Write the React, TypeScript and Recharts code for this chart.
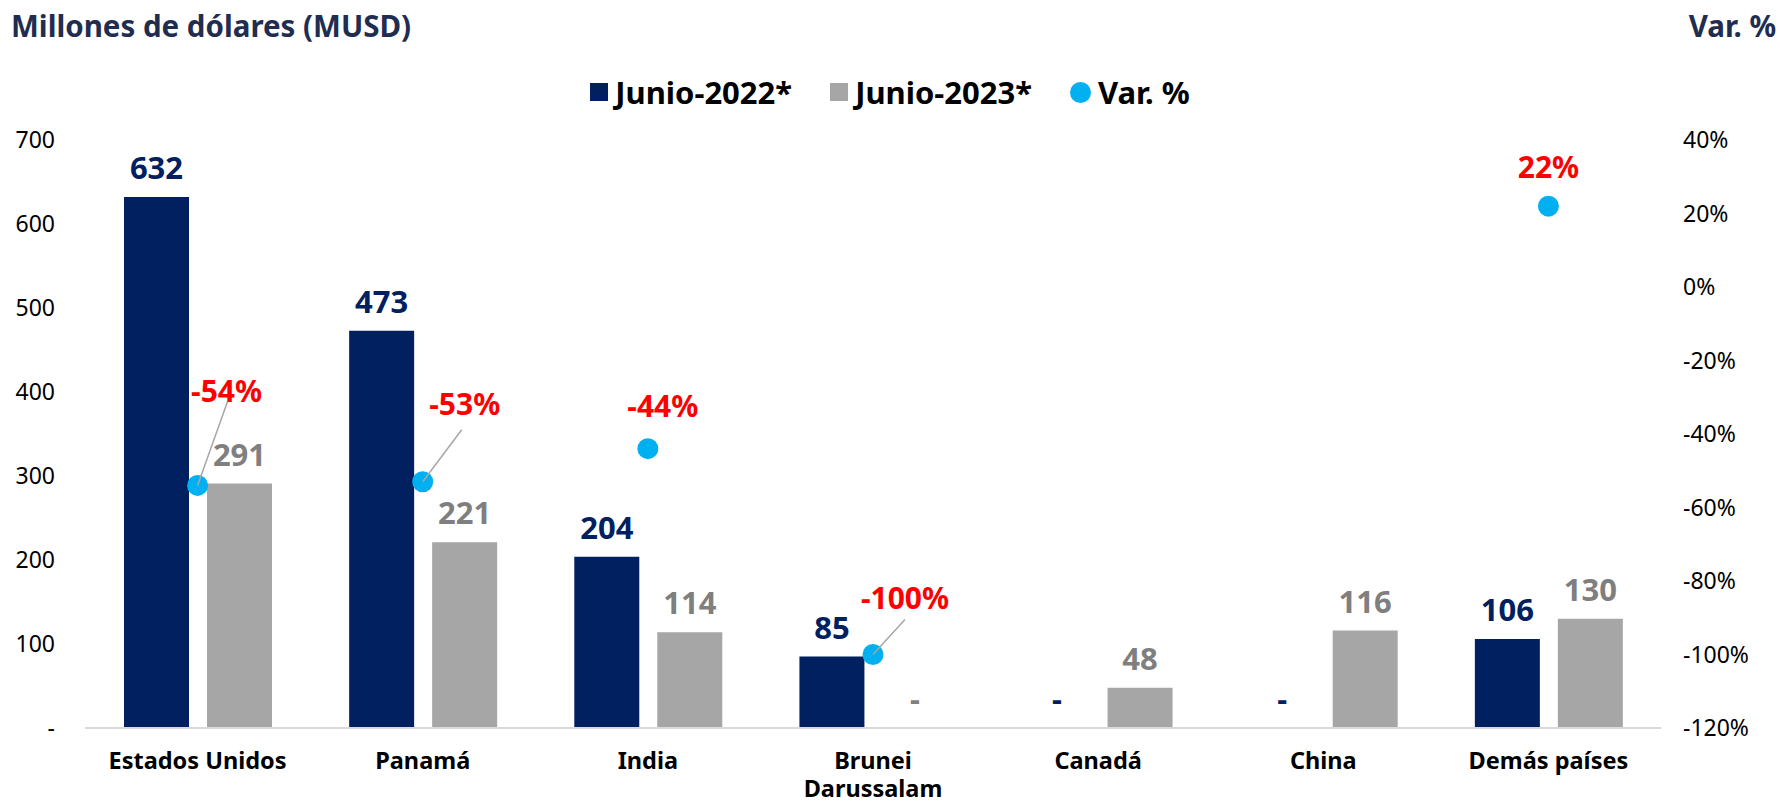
import React from "react";
import {
  ComposedChart,
  Bar,
  Line,
  XAxis,
  YAxis,
  Legend,
  LabelList,
} from "recharts";

// ---- data ----
const categories = [
  "Estados Unidos",
  "Panamá",
  "India",
  "Brunei Darussalam",
  "Canadá",
  "China",
  "Demás países",
];
const junio2022 = [632, 473, 204, 85, 0, 0, 106];
const junio2023 = [291, 221, 114, 0, 48, 116, 130];
const varPct: (number | null)[] = [-54, -53, -44, -100, null, null, 22];
const leftTicks = [0, 100, 200, 300, 400, 500, 600, 700];
const rightTicks = [-120, -100, -80, -60, -40, -20, 0, 20, 40];
const seriesNames = { y2022: "Junio-2022*", y2023: "Junio-2023*", var: "Var. %" };

const data = categories.map((name, i) => ({
  name,
  y2022: junio2022[i],
  y2023: junio2023[i],
  var: varPct[i],
}));

// ---- layout / style ----
const FONT = "'Noto Sans', 'DejaVu Sans', sans-serif";
const NAVY = "#002060";
const GRAY = "#a6a6a6";
const GRAY_TXT = "#7f7f7f";
const CYAN = "#00b0f0";
const RED = "#ff0000";
const TITLE = "#1f2d50";

// label placement relative to each point (text centre), plus optional leader end
const varLabelLayout: ({ dx: number; dy: number; lx?: number; ly?: number } | null)[] = [
  { dx: 29, dy: -95, lx: 30, ly: -84 },
  { dx: 42, dy: -78, lx: 39, ly: -52 },
  { dx: 15, dy: -43 },
  { dx: 32, dy: -57, lx: 32, ly: -35 },
  null,
  null,
  { dx: 0, dy: -40 },
];

const tickLines: Record<string, string[]> = {
  "Brunei Darussalam": ["Brunei", "Darussalam"],
};

const fmtBar = (v: any) => (v === 0 ? "-" : String(v));

const XTick = (props: any) => {
  const { x, y, payload } = props;
  const lines = tickLines[payload.value] ?? [payload.value];
  return (
    <text
      x={x}
      y={y}
      textAnchor="middle"
      fill="#000"
      fontFamily={FONT}
      fontWeight={700}
      fontSize={23.5}
    >
      {lines.map((l: string, i: number) => (
        <tspan key={i} x={x} dy={i === 0 ? 41 : 28}>
          {l}
        </tspan>
      ))}
    </text>
  );
};

const VarDot = (props: any) => {
  const { cx, cy, index, value } = props;
  if (value == null || cx == null || cy == null) return <g key={`d${index}`} />;
  const lay = varLabelLayout[index];
  return (
    <g key={`d${index}`}>
      <circle cx={cx} cy={cy} r={10.5} fill={CYAN} />
      {lay && lay.lx != null && lay.ly != null ? (
        <line
          x1={cx}
          y1={cy}
          x2={cx + lay.lx}
          y2={cy + lay.ly}
          stroke={GRAY}
          strokeWidth={1.5}
        />
      ) : null}
      {lay ? (
        <text
          x={cx + lay.dx}
          y={cy + lay.dy}
          textAnchor="middle"
          dominantBaseline="central"
          fill={RED}
          fontFamily={FONT}
          fontWeight={700}
          fontSize={30}
        >
          {`${value}%`}
        </text>
      ) : null}
    </g>
  );
};

const renderLegend = (props: any) => {
  const { payload } = props;
  return (
    <div
      style={{
        display: "flex",
        justifyContent: "center",
        alignItems: "center",
        gap: 38,
        fontFamily: FONT,
        fontWeight: 700,
        fontSize: 31,
        lineHeight: "32px",
        color: "#000",
      }}
    >
      {(payload || []).map((entry: any, i: number) => {
        const key = entry.dataKey as string;
        const icon =
          key === "var" ? (
            <span
              style={{
                width: 21,
                height: 21,
                borderRadius: "50%",
                background: CYAN,
                display: "inline-block",
              }}
            />
          ) : (
            <span
              style={{
                width: 18,
                height: 18,
                background: key === "y2022" ? NAVY : GRAY,
                display: "inline-block",
              }}
            />
          );
        return (
          <div key={i} style={{ display: "flex", alignItems: "center", gap: 7 }}>
            {icon}
            <span>{entry.value}</span>
          </div>
        );
      })}
    </div>
  );
};

export default function App() {
  return (
    <div
      style={{
        position: "absolute",
        left: 0,
        top: 0,
        width: 1780,
        height: 803,
        background: "#fff",
        overflow: "hidden",
      }}
    >
      <div
        style={{
          position: "absolute",
          left: 11,
          top: 5,
          fontFamily: FONT,
          fontWeight: 700,
          fontSize: 29.5,
          color: TITLE,
          whiteSpace: "nowrap",
        }}
      >
        Millones de dólares (MUSD)
      </div>
      <div
        style={{
          position: "absolute",
          right: 4,
          top: 5,
          fontFamily: FONT,
          fontWeight: 700,
          fontSize: 29.5,
          color: TITLE,
          whiteSpace: "nowrap",
        }}
      >
        Var. %
      </div>
      <ComposedChart
        width={1780}
        height={803}
        data={data}
        margin={{ top: 140, right: 0, bottom: 0, left: 0 }}
        barGap={18}
      >
        <XAxis
          dataKey="name"
          xAxisId="x"
          height={75}
          tickLine={false}
          tickSize={0}
          tickMargin={0}
          axisLine={{ stroke: "#d9d9d9", strokeWidth: 2 }}
          tick={<XTick />}
          interval={0}
        />
        <YAxis
          yAxisId="left"
          width={85}
          domain={[0, 700]}
          ticks={leftTicks}
          axisLine={false}
          tickLine={false}
          tickSize={0}
          tickMargin={30}
          tickFormatter={(v: number) => (v === 0 ? "-" : String(v))}
          tick={{ fill: "#000", fontSize: 23, fontFamily: FONT }}
        />
        <YAxis
          yAxisId="right"
          orientation="right"
          width={119}
          domain={[-120, 40]}
          ticks={rightTicks}
          axisLine={false}
          tickLine={false}
          tickSize={0}
          tickMargin={22}
          tickFormatter={(v: number) => `${v}%`}
          tick={{ fill: "#000", fontSize: 23, fontFamily: FONT, textAnchor: "start" }}
        />
        <Legend
          verticalAlign="middle"
          align="center"
          layout="horizontal"
          content={renderLegend}
          wrapperStyle={{ top: 76, left: 0, width: 1780 }}
        />
        <Bar
          dataKey="y2022"
          name={seriesNames.y2022}
          xAxisId="x"
          yAxisId="left"
          fill={NAVY}
          barSize={65}
          minPointSize={0.01}
          isAnimationActive={false}
        >
          <LabelList
            dataKey="y2022"
            position="top"
            offset={18}
            formatter={fmtBar}
            fill={NAVY}
            fontSize={31}
            fontWeight={700}
            fontFamily={FONT}
          />
        </Bar>
        <Bar
          dataKey="y2023"
          name={seriesNames.y2023}
          xAxisId="x"
          yAxisId="left"
          fill={GRAY}
          barSize={65}
          minPointSize={0.01}
          isAnimationActive={false}
        >
          <LabelList
            dataKey="y2023"
            position="top"
            offset={18}
            formatter={fmtBar}
            fill={GRAY_TXT}
            fontSize={31}
            fontWeight={700}
            fontFamily={FONT}
          />
        </Bar>
        <Line
          dataKey="var"
          name={seriesNames.var}
          xAxisId="x"
          yAxisId="right"
          stroke="none"
          strokeWidth={0}
          dot={<VarDot />}
          activeDot={false}
          legendType="circle"
          connectNulls={false}
          isAnimationActive={false}
        />
      </ComposedChart>
    </div>
  );
}
